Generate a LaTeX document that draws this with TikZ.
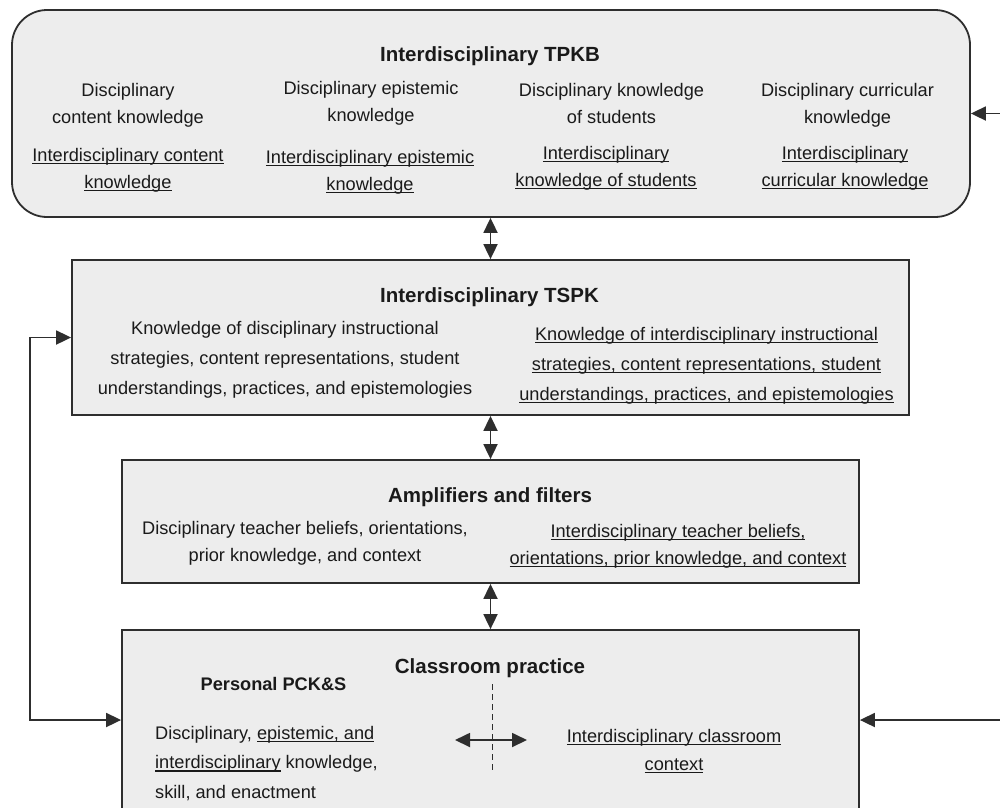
\documentclass[tikz,border=0pt]{standalone}
\usepackage{fontspec}
\setmainfont{Liberation Sans}
\usetikzlibrary{arrows.meta}
\definecolor{linec}{HTML}{2E2E2E}
\definecolor{boxfill}{HTML}{EDEDED}
\definecolor{txt}{HTML}{1A1A1A}
\newcommand{\myul}[1]{\leavevmode\setbox0\hbox{#1}\rlap{\rule[-2.6pt]{\wd0}{1.1pt}}\box0{}}
\begin{document}
\begin{tikzpicture}[x=1pt,y=-1pt,
  box/.style={draw=linec, fill=boxfill, line width=1.8pt, inner sep=0pt},
  ttl/.style={font=\fontsize{20.5}{24}\selectfont\bfseries, text=txt, inner sep=0pt},
  body/.style={font=\fontsize{18.2}{27}\selectfont, text=txt, align=center, inner sep=0pt},
  bodyb/.style={font=\fontsize{18.2}{30}\selectfont, text=txt, align=center, inner sep=0pt},
  arr/.style={line width=1.8pt, draw=linec, -{Triangle[length=15pt,width=14pt]}},
  dbl/.style={line width=1.8pt, draw=linec, {Triangle[length=15pt,width=14pt]}-{Triangle[length=15pt,width=14pt]}}]
\clip (0,0) rectangle (1000,807);
\fill[white] (0,0) rectangle (1000,807);

% boxes
\node[box, rounded corners=35pt, minimum width=958pt, minimum height=207pt] (tpkb) at (491,113.5) {};
\node[box, minimum width=837pt, minimum height=155pt] (tspk) at (490.5,337.5) {};
\node[box, minimum width=737pt, minimum height=123pt] (amp) at (490.5,521.5) {};
\node[box, minimum width=737pt, minimum height=180pt] (class) at (490.5,720) {};

% TPKB
\node[ttl] (t1) at (490,56) {Interdisciplinary TPKB};
\node[body] (c1a) at (128,105) {Disciplinary\\content knowledge};
\node[body] (c1b) at (128,170) {\myul{Interdisciplinary content}\\\myul{knowledge}};
\node[body] (c2a) at (371,103) {Disciplinary epistemic\\knowledge};
\node[body] (c2b) at (370,172) {\myul{Interdisciplinary epistemic}\\\myul{knowledge}};
\node[body] (c3a) at (611.5,103) {Disciplinary knowledge\\of students};
\node[body] (c3b) at (606,168) {\myul{Interdisciplinary}\\\myul{knowledge of students}};
\node[body] (c4a) at (847.5,105) {Disciplinary curricular\\knowledge};
\node[body] (c4b) at (845,168) {\myul{Interdisciplinary}\\\myul{curricular knowledge}};

% TSPK
\node[ttl] (t2) at (489.5,297) {Interdisciplinary TSPK};
\node[bodyb] (s1) at (285,360) {Knowledge of disciplinary instructional\\strategies, content representations, student\\understandings, practices, and epistemologies};
\node[bodyb] (s2) at (706.5,366) {\myul{Knowledge of interdisciplinary instructional}\\\myul{strategies, content representations, student}\\\myul{understandings, practices, and epistemologies}};

% Amplifiers
\node[ttl] (t3) at (490,497) {Amplifiers and filters};
\node[body] (a1) at (305,543) {Disciplinary teacher beliefs, orientations,\\prior knowledge, and context};
\node[body] (a2) at (678,546) {\myul{Interdisciplinary teacher beliefs,}\\\myul{orientations, prior knowledge, and context}};

% Classroom
\node[ttl] (t4) at (490,668) {Classroom practice};
\node[ttl, font=\fontsize{18.2}{22}\selectfont\bfseries] (pk) at (273.5,684) {Personal PCK\&S};
\node[body, font=\fontsize{18.2}{29.5}\selectfont, align=left, anchor=north west] (p1) at (155,726) {Disciplinary, \myul{epistemic, and}\\\myul{interdisciplinary} knowledge,\\skill, and enactment};
\node[body, font=\fontsize{18.2}{28}\selectfont] (p2) at (674,751) {\myul{Interdisciplinary classroom}\\\myul{context}};
\coordinate (d1) at (492.5,684);
\coordinate (d2) at (492.5,772);
\draw[linec, line width=1.4pt, dash pattern=on 6pt off 4pt] (d1) -- (d2);
\coordinate (h1) at (455,740);
\coordinate (h2) at (527,740);
\draw[dbl] (h1) -- (h2);

% vertical connectors
\draw[dbl] (tpkb.south -| tspk.north) -- (tspk.north);
\draw[dbl] (tspk.south) -- (amp.north);
\draw[dbl] (amp.south) -- (class.north);

% left loop
\coordinate (lc) at (30,0);
\draw[dbl] (tspk.west) -- (tspk.west -| lc) -- (class.west -| lc) -- (class.west);

% right feeds
\coordinate (rc) at (1005,0);
\draw[arr] (tpkb.east -| rc) -- (tpkb.east);
\draw[arr] (class.east -| rc) -- (class.east);
\end{tikzpicture}
\end{document}
